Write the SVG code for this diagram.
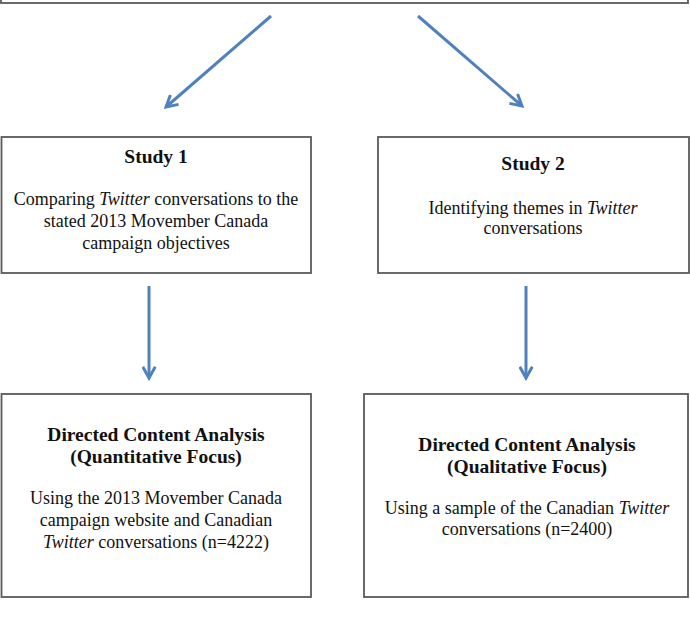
<svg xmlns="http://www.w3.org/2000/svg" width="690" height="621" viewBox="0 0 690 621">
  <style>
    .box { fill: #ffffff; stroke: #5a5a5a; stroke-width: 1.8; }
    .t { font-family: "Liberation Serif", "Times New Roman", serif; font-size: 18px; fill: #111; text-anchor: middle; }
    .b { font-weight: bold; font-size: 19.5px; }
    .i { font-style: italic; }
    .conn { stroke: #4f81bd; stroke-width: 3; fill: none; marker-end: url(#chev); }
  </style>
  <defs>
    <marker id="chev" viewBox="0 0 12 12" refX="10" refY="6" markerWidth="5" markerHeight="5" orient="auto" markerUnits="strokeWidth">
      <path d="M1,1 L10,6 L1,11" fill="none" stroke="#4f81bd" stroke-width="2.4" stroke-linejoin="miter"/>
    </marker>
  </defs>

  <rect width="690" height="621" fill="#ffffff"/>

  <g id="top">
    <rect class="box" x="1" y="-20" width="687" height="23"/>
  </g>

  <g id="connectors">
    <line class="conn" x1="271" y1="16" x2="166" y2="107"/>
    <line class="conn" x1="418" y1="16" x2="522" y2="106"/>
    <line class="conn" x1="149" y1="286" x2="149" y2="378"/>
    <line class="conn" x1="526" y1="286" x2="526" y2="378"/>
  </g>

  <g id="study1">
    <rect class="box" x="1.5" y="137" width="309.5" height="136"/>
    <text class="t b" x="156" y="163">Study 1</text>
    <text class="t" x="156" y="205">Comparing <tspan class="i">Twitter</tspan> conversations to the</text>
    <text class="t" x="156" y="227">stated 2013 Movember Canada</text>
    <text class="t" x="156" y="249">campaign objectives</text>
  </g>

  <g id="study2">
    <rect class="box" x="378" y="137" width="311" height="136"/>
    <text class="t b" x="533" y="170">Study 2</text>
    <text class="t" x="533" y="214">Identifying themes in <tspan class="i">Twitter</tspan></text>
    <text class="t" x="533" y="234">conversations</text>
  </g>

  <g id="analysis1">
    <rect class="box" x="1.5" y="394" width="309.5" height="203"/>
    <text class="t b" x="156" y="441">Directed Content Analysis</text>
    <text class="t b" x="156" y="463">(Quantitative Focus)</text>
    <text class="t" x="156" y="504">Using the 2013 Movember Canada</text>
    <text class="t" x="156" y="526">campaign website and Canadian</text>
    <text class="t" x="156" y="548"><tspan class="i">Twitter</tspan> conversations (n=4222)</text>
  </g>

  <g id="analysis2">
    <rect class="box" x="364" y="394" width="324" height="203"/>
    <text class="t b" x="527" y="451">Directed Content Analysis</text>
    <text class="t b" x="527" y="473">(Qualitative Focus)</text>
    <text class="t" x="527" y="514">Using a sample of the Canadian <tspan class="i">Twitter</tspan></text>
    <text class="t" x="527" y="535">conversations (n=2400)</text>
  </g>
</svg>
